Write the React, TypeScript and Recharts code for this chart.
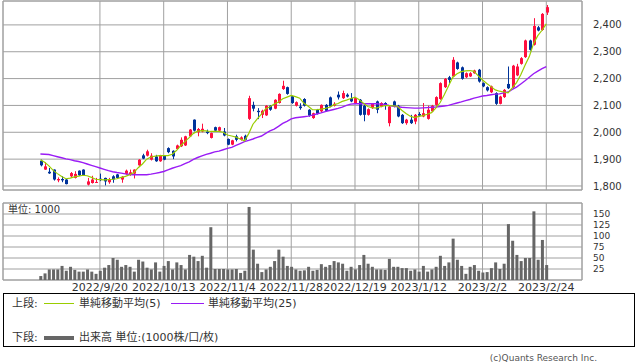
import React from "react";
import {
  ComposedChart,
  Bar,
  Line,
  XAxis,
  YAxis,
  CartesianGrid,
  ReferenceArea,
} from "recharts";

// ----- data -----

const opens = [
  1894, 1861, 1853, 1861, 1821, 1826, 1824, 1836, 1830, 1857, 1861, 1805, 1811, 1812, 1827, 1830, 1814, 1836, 1843, 1824,
  1845, 1842, 1846, 1877, 1914, 1913, 1898, 1910, 1892, 1913, 1941, 1931, 1938, 1948, 1951, 1985, 2047, 2000, 2003, 2003,
  1979, 2019, 2006, 2003, 1975, 1954, 1985, 1972, 1987, 2050, 2102, 2080, 2065, 2063, 2099, 2088, 2109, 2161, 2168, 2134,
  2099, 2096, 2124, 2084, 2053, 2084, 2078, 2102, 2130, 2099, 2140, 2127, 2140, 2127, 2109, 2121, 2099, 2065, 2090, 2115,
  2096, 2109, 2034, 2115, 2099, 2065, 2034, 2047, 2040, 2068, 2059, 2050, 2078, 2102, 2124, 2168, 2205, 2208, 2260, 2242,
  2205, 2208, 2220, 2233, 2183, 2168, 2149, 2146, 2106, 2131, 2180, 2168, 2212, 2255, 2280, 2342, 2326, 2391, 2381, 2446,
];
const closes = [
  1877, 1873, 1847, 1824, 1826, 1821, 1807, 1848, 1845, 1840, 1840, 1817, 1824, 1815, 1822, 1817, 1826, 1824, 1830, 1834,
  1857, 1851, 1861, 1898, 1902, 1929, 1913, 1892, 1913, 1898, 1926, 1910, 1951, 1972, 1985, 2010, 2006, 2012, 2013, 1997,
  1997, 2006, 2019, 1988, 1954, 1970, 1972, 1981, 1972, 2127, 2088, 2075, 2080, 2099, 2084, 2121, 2143, 2173, 2143, 2109,
  2112, 2090, 2099, 2062, 2071, 2069, 2102, 2080, 2096, 2106, 2130, 2146, 2133, 2115, 2127, 2065, 2065, 2086, 2106, 2084,
  2109, 2099, 2096, 2096, 2059, 2034, 2047, 2034, 2065, 2062, 2071, 2084, 2099, 2131, 2183, 2199, 2195, 2270, 2236, 2199,
  2220, 2220, 2230, 2189, 2171, 2156, 2171, 2106, 2133, 2158, 2164, 2248, 2245, 2276, 2342, 2307, 2396, 2379, 2441, 2466,
];
const highs = [
  1898, 1888, 1867, 1862, 1832, 1836, 1826, 1852, 1855, 1858, 1862, 1830, 1838, 1830, 1846, 1831, 1830, 1840, 1845, 1837,
  1861, 1861, 1862, 1900, 1920, 1935, 1922, 1916, 1916, 1915, 1944, 1933, 1954, 1981, 1987, 2012, 2048, 2016, 2032, 2010,
  1999, 2021, 2021, 2016, 1977, 1972, 1991, 1985, 1991, 2136, 2114, 2090, 2084, 2101, 2101, 2123, 2145, 2192, 2170, 2136,
  2115, 2108, 2127, 2086, 2073, 2087, 2104, 2105, 2133, 2112, 2152, 2155, 2145, 2146, 2130, 2124, 2102, 2089, 2109, 2118,
  2112, 2112, 2099, 2118, 2102, 2068, 2050, 2065, 2068, 2075, 2109, 2099, 2102, 2134, 2186, 2202, 2210, 2280, 2263, 2245,
  2223, 2224, 2233, 2236, 2186, 2171, 2174, 2149, 2136, 2161, 2245, 2251, 2255, 2280, 2345, 2345, 2425, 2396, 2444, 2474,
];
const lows = [
  1873, 1860, 1845, 1820, 1814, 1814, 1806, 1830, 1828, 1837, 1839, 1802, 1809, 1811, 1818, 1802, 1808, 1812, 1828, 1812,
  1842, 1838, 1828, 1875, 1900, 1910, 1895, 1890, 1890, 1896, 1922, 1900, 1936, 1945, 1949, 1983, 2003, 1985, 2000, 1993,
  1977, 2004, 2004, 1985, 1952, 1952, 1966, 1969, 1970, 2046, 2078, 2049, 2053, 2061, 2080, 2086, 2107, 2158, 2140, 2106,
  2096, 2084, 2096, 2058, 2050, 2066, 2075, 2077, 2093, 2096, 2122, 2124, 2130, 2112, 2106, 2062, 2041, 2062, 2087, 2071,
  2093, 2084, 2022, 2093, 2056, 2031, 2028, 2031, 2030, 2059, 2056, 2047, 2075, 2099, 2121, 2165, 2183, 2205, 2233, 2196,
  2202, 2206, 2218, 2185, 2168, 2152, 2146, 2102, 2104, 2128, 2161, 2165, 2209, 2252, 2277, 2304, 2323, 2376, 2378, 2437,
];
const ma5 = [
  1898, 1888, 1875, 1858, 1846, 1835, 1827, 1829, 1834, 1837, 1840, 1838, 1832, 1825, 1824, 1823, 1824, 1825, 1827, 1832,
  1836, 1842, 1850, 1868, 1882, 1900, 1908, 1911, 1913, 1913, 1913, 1918, 1932, 1950, 1965, 1980, 1996, 2004, 2006, 2005,
  2003, 2003, 2003, 2000, 1990, 1986, 1982, 1975, 1968, 1995, 2030, 2050, 2068, 2088, 2095, 2105, 2113, 2125, 2131, 2137,
  2133, 2127, 2108, 2097, 2084, 2084, 2086, 2089, 2093, 2102, 2107, 2115, 2120, 2126, 2131, 2121, 2108, 2096, 2092, 2090,
  2095, 2099, 2099, 2098, 2097, 2082, 2070, 2060, 2055, 2059, 2062, 2067, 2073, 2090, 2110, 2140, 2172, 2205, 2218, 2226,
  2229, 2230, 2227, 2210, 2195, 2182, 2170, 2158, 2153, 2150, 2147, 2165, 2185, 2214, 2250, 2282, 2330, 2360, 2380, 2404,
];
const ma25 = [
  1919, 1918, 1917, 1913, 1909, 1905, 1901, 1898, 1894, 1891, 1887, 1882, 1877, 1872, 1867, 1862, 1857, 1853, 1850, 1848,
  1845, 1843, 1842, 1842, 1842, 1842, 1844, 1847, 1850, 1854, 1860, 1866, 1871, 1876, 1883, 1890, 1899, 1906, 1912, 1918,
  1922, 1927, 1930, 1935, 1940, 1944, 1951, 1958, 1965, 1970, 1975, 1981, 1986, 1996, 2005, 2012, 2022, 2033, 2041, 2050,
  2054, 2056, 2058, 2060, 2064, 2068, 2072, 2077, 2081, 2085, 2089, 2094, 2100, 2105, 2106, 2106, 2106, 2106, 2106, 2106,
  2105, 2104, 2100, 2097, 2095, 2093, 2092, 2091, 2090, 2090, 2091, 2092, 2093, 2094, 2096, 2098, 2100, 2105, 2109, 2113,
  2118, 2122, 2127, 2131, 2135, 2137, 2140, 2142, 2143, 2147, 2150, 2160, 2168, 2180, 2192, 2205, 2218, 2228, 2237, 2245,
];
const volumes = [
  9, 15, 24, 24, 24, 32, 21, 30, 23, 19, 19, 24, 19, 14, 21, 28, 34, 50, 46, 30,
  34, 30, 19, 46, 42, 28, 24, 40, 19, 32, 43, 24, 40, 34, 24, 57, 53, 43, 55, 28,
  120, 25, 25, 25, 24, 24, 25, 16, 21, 166, 69, 37, 18, 24, 30, 43, 69, 53, 32, 30,
  24, 21, 22, 30, 21, 23, 36, 30, 34, 43, 40, 37, 21, 30, 24, 34, 57, 37, 30, 24,
  24, 23, 48, 30, 30, 27, 27, 21, 24, 19, 32, 19, 24, 30, 55, 32, 40, 94, 46, 32,
  14, 30, 34, 21, 17, 18, 27, 40, 25, 37, 127, 89, 57, 43, 50, 50, 156, 46, 91, 34,
];

const tickIndex = [14, 29, 44, 59, 74, 89, 104, 119];
const tickLabels = ["2022/9/20", "2022/10/13", "2022/11/4", "2022/11/28", "2022/12/19", "2023/1/12", "2023/2/2", "2023/2/24"];
const priceTicks = [1800, 1900, 2000, 2100, 2200, 2300, 2400];
const volumeTicks = [25, 50, 75, 100, 125, 150];

const rows = opens.map((open, i) => ({
  i,
  open,
  close: closes[i],
  high: highs[i],
  low: lows[i],
  ma5: ma5[i],
  ma25: ma25[i],
  vol: volumes[i],
}));

// ----- styles -----

const RED = "#ff0f3f";
const BLUE = "#00339a";
const GRID = "#a0a0a0";
const TEXT = "#333";
const FONT = "'DejaVu Sans', 'Noto Sans CJK JP', sans-serif";
const X_DOMAIN = [-8.8, 127.4];

function Candle(props: any) {
  const { x, y, width, height, payload } = props;
  if (!payload) return null;
  const { open, close, high, low } = payload;
  const color = close >= open ? RED : BLUE;
  const top = Math.min(y, y + height);
  const h = Math.abs(height);
  const ratio = h / (high - low || 1);
  const bodyTop = top + (high - Math.max(open, close)) * ratio;
  const bodyBot = top + (high - Math.min(open, close)) * ratio;
  const cx = Math.round(x + width / 2) + 0.5;
  return (
    <g>
      <line x1={cx} x2={cx} y1={top} y2={top + h} stroke={color} strokeWidth={1} />
      <rect x={cx - 1.5} y={bodyTop} width={3} height={Math.max(1, bodyBot - bodyTop)} fill={color} />
    </g>
  );
}

function PriceChart() {
  return (
    <ComposedChart width={638} height={192} data={rows} margin={{ top: 1, right: 6, bottom: 2, left: 3 }}>
      <CartesianGrid stroke={GRID} strokeWidth={1} />
      <XAxis dataKey="i" type="number" domain={X_DOMAIN} ticks={tickIndex} hide />
      <YAxis
        orientation="right"
        domain={[1785, 2489]}
        ticks={priceTicks}
        interval={0}
        width={50}
        tick={{ fill: TEXT, fontSize: 10, fontFamily: FONT, textAnchor: "start" }}
        tickLine={false}
        axisLine={false}
        tickSize={0}
        tickMargin={11}
        tickFormatter={(v: number) => v.toLocaleString("en-US")}
      />
      <ReferenceArea x1={X_DOMAIN[0]} x2={X_DOMAIN[1]} y1={1785} y2={2489} fill="none" stroke={GRID} />
      <Bar
        dataKey={(d: any) => [d.low, d.high]}
        barSize={3}
        shape={Candle}
        isAnimationActive={false}
      />
      <Line type="linear" dataKey="ma25" stroke="#9a1cf5" strokeWidth={1.4} dot={false} isAnimationActive={false} />
      <Line type="linear" dataKey="ma5" stroke="#9acd00" strokeWidth={1.2} dot={false} isAnimationActive={false} />
    </ComposedChart>
  );
}

function VolumeChart() {
  return (
    <ComposedChart width={638} height={110} data={rows} margin={{ top: 13, right: 6, bottom: 0, left: 3 }}>
      <CartesianGrid stroke={GRID} strokeWidth={1} />
      <XAxis
        dataKey="i"
        type="number"
        domain={X_DOMAIN}
        ticks={tickIndex}
        interval={0}
        height={20}
        tickLine={false}
        axisLine={false}
        tickSize={0}
        tickMargin={3}
        tick={{ fill: TEXT, fontSize: 11, fontFamily: FONT }}
        tickFormatter={(v: number) => tickLabels[tickIndex.indexOf(v)] ?? ""}
      />
      <YAxis
        orientation="right"
        domain={[0, 175]}
        ticks={volumeTicks}
        interval={0}
        width={50}
        tick={{ fill: TEXT, fontSize: 9, fontFamily: FONT, textAnchor: "start" }}
        tickLine={false}
        axisLine={false}
        tickSize={0}
        tickMargin={11}
      />
      <ReferenceArea x1={X_DOMAIN[0]} x2={X_DOMAIN[1]} y1={0} y2={175} fill="none" stroke={GRID} />
      <Bar dataKey="vol" barSize={3} fill="#666" isAnimationActive={false} />
    </ComposedChart>
  );
}

const legendText: React.CSSProperties = {
  position: "absolute",
  fontSize: 11,
  lineHeight: "12px",
  color: TEXT,
  fontFamily: FONT,
  whiteSpace: "nowrap",
};

export default function App() {
  return (
    <div style={{ position: "absolute", left: 0, top: 0, width: 638, height: 362, background: "#fff", overflow: "hidden" }}>
      <div style={{ position: "absolute", left: 0, top: 0 }}>
        <PriceChart />
      </div>
      <div style={{ position: "absolute", left: 0, top: 190 }}>
        <VolumeChart />
      </div>
      <div style={{ ...legendText, left: 8, top: 204, fontSize: 10 }}>単位: 1000</div>

      <div style={{ position: "absolute", left: 3, top: 293, width: 630, height: 52, border: "1px solid #000" }}>
        <div style={{ ...legendText, left: 8, top: 4 }}>上段:</div>
        <div style={{ position: "absolute", left: 40, top: 9, width: 30, height: 1, background: "#9acd00" }} />
        <div style={{ ...legendText, left: 75, top: 4 }}>単純移動平均(5)</div>
        <div style={{ position: "absolute", left: 167, top: 9, width: 33, height: 1, background: "#9a1cf5" }} />
        <div style={{ ...legendText, left: 204, top: 4 }}>単純移動平均(25)</div>
        <div style={{ ...legendText, left: 8, top: 38 }}>下段:</div>
        <div style={{ position: "absolute", left: 40, top: 42, width: 30, height: 4, background: "#666" }} />
        <div style={{ ...legendText, left: 75, top: 38 }}>出来高 単位:(1000株/口/枚)</div>
      </div>
      <div style={{ ...legendText, right: 41, top: 352, fontSize: 9, color: "#555" }}>(c)Quants Research Inc.</div>
    </div>
  );
}
